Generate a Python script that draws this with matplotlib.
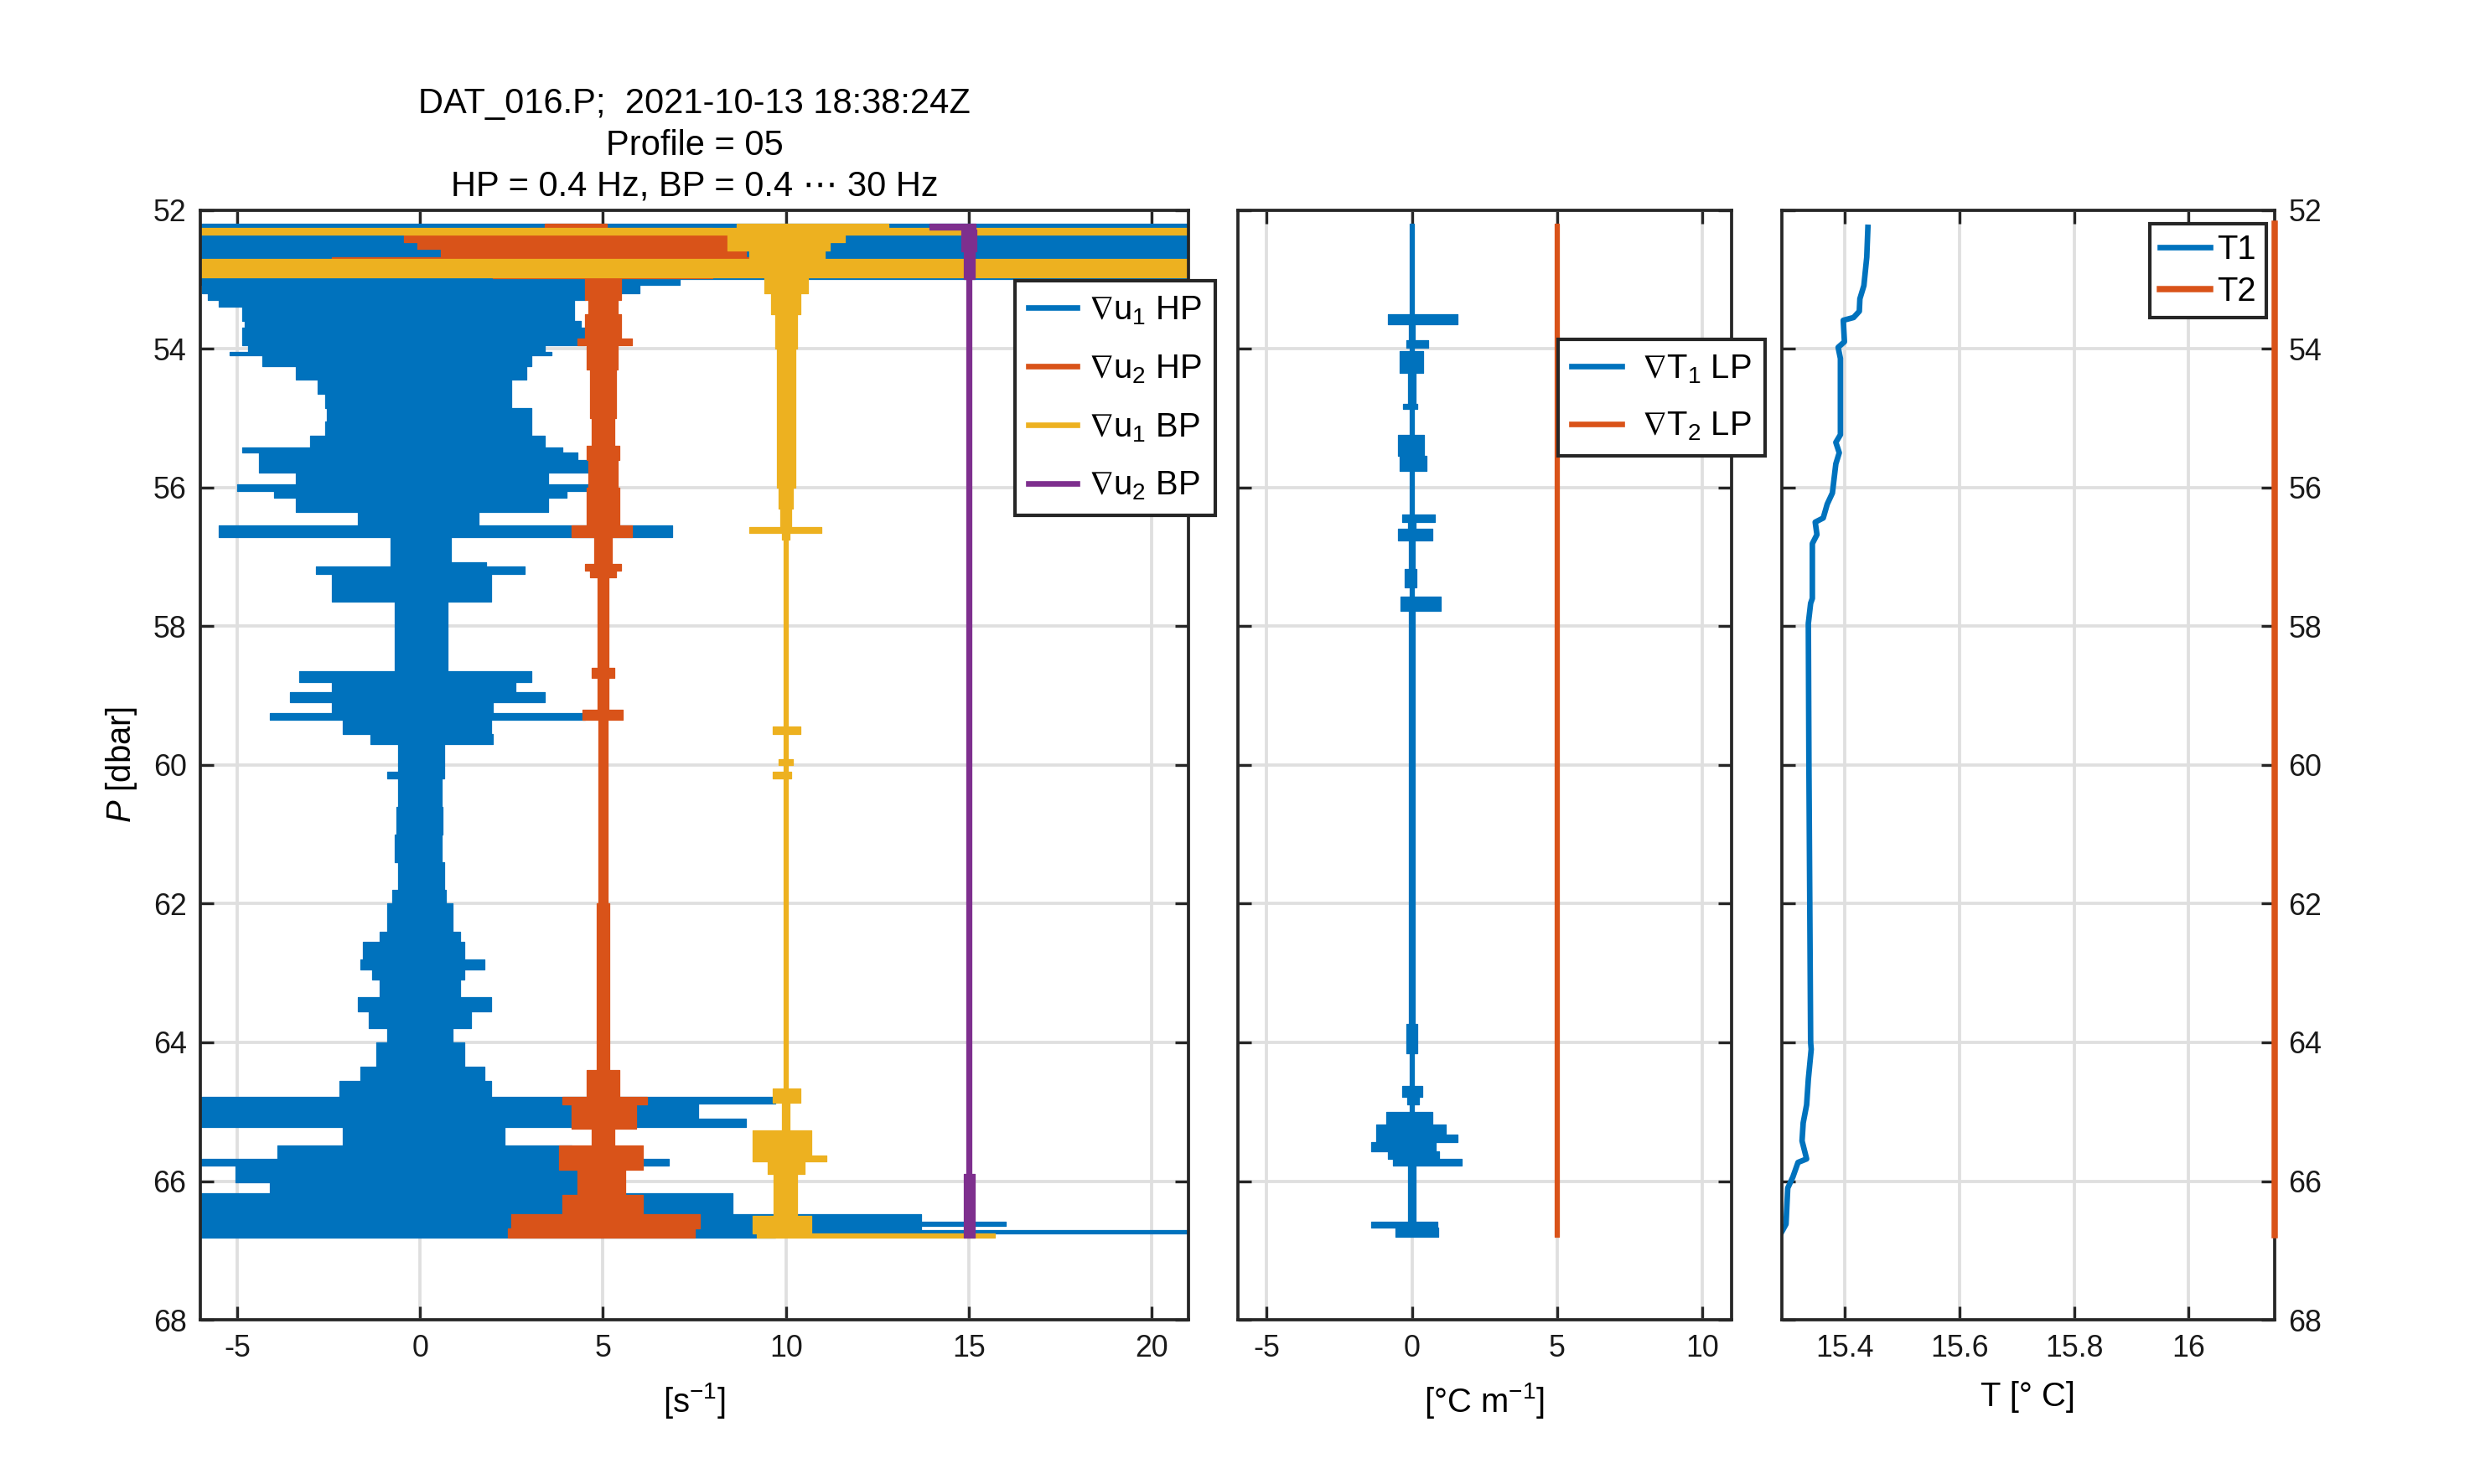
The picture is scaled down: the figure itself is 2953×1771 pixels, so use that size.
import numpy as np
import matplotlib
matplotlib.use("Agg")
import matplotlib.pyplot as plt
from matplotlib.lines import Line2D

plt.rcParams['font.family'] = ['Liberation Sans', 'DejaVu Sans']
plt.rcParams['mathtext.fontset'] = 'custom'
plt.rcParams['mathtext.rm'] = 'Liberation Sans'
plt.rcParams['mathtext.it'] = 'Liberation Sans:italic'
plt.rcParams['mathtext.fallback'] = 'stixsans'
plt.rcParams['axes.unicode_minus'] = False

# MATLAB default colours
c_blue = '#0072BD'
c_red = '#D95319'
c_yel = '#EDB120'
c_pur = '#7E2F8E'

# ---- left panel: shear envelopes (P [dbar], min, max) ----
# grad u1 HP, offset 0
p_u1hp = [52.20, 53.00, 53.08, 53.20, 53.30, 53.40, 53.60, 53.70, 53.95, 54.05, 54.10,
          54.25, 54.45, 54.65, 54.85, 55.05, 55.25, 55.42, 55.50, 55.60, 55.78, 55.95,
          56.05, 56.15, 56.35, 56.55, 56.72, 57.08, 57.14, 57.25, 57.65, 58.65, 58.80,
          58.95, 59.10, 59.25, 59.35, 59.55, 59.70, 60.10, 60.20, 60.60, 61.00, 61.40,
          61.80, 62.00, 62.40, 62.55, 62.80, 62.95, 63.10, 63.35, 63.55, 63.80, 64.00,
          64.35, 64.55, 64.78, 64.88, 65.10, 65.22, 65.48, 65.68, 65.78, 66.02, 66.18,
          66.48, 66.58, 66.64, 66.70, 66.76, 66.82]
lo_u1hp = [-8.0, -6.0, -5.96, -5.8, -5.5, -4.85, -4.8, -4.85, -4.7, -5.2, -4.3,
           -3.4, -2.8, -2.6, -2.55, -2.6, -3.0, -4.85, -4.4, -4.4, -3.4, -5.0,
           -4.0, -3.4, -1.7, -5.5, -0.8, -0.8, -2.85, -2.4, -0.7, -3.3, -2.4,
           -3.55, -2.4, -4.1, -2.1, -1.36, -0.6, -0.9, -0.6, -0.65, -0.7, -0.6,
           -0.75, -0.9, -1.1, -1.55, -1.64, -1.3, -1.1, -1.7, -1.4, -0.9, -1.2,
           -1.64, -2.2, -6.5, -6.5, -6.5, -2.1, -3.9, -6.5, -5.05, -4.1, -6.5,
           -6.5, -6.5, -6.5, -6.5, -6.5, -6.5]
hi_u1hp = [24.0, 7.1, 6.0, 4.5, 4.2, 4.2, 4.4, 4.5, 3.4, 3.6, 3.05,
           2.9, 2.5, 2.5, 3.05, 3.05, 3.4, 3.9, 4.3, 4.6, 3.5, 4.6,
           4.0, 3.5, 1.6, 6.9, 0.85, 1.8, 2.87, 1.95, 0.75, 3.05, 2.6,
           3.4, 2.0, 4.5, 1.95, 2.0, 0.66, 0.66, 0.6, 0.62, 0.6, 0.65,
           0.7, 0.9, 1.1, 1.2, 1.76, 1.2, 1.1, 1.95, 1.4, 0.9, 1.2,
           1.76, 1.95, 9.7, 7.6, 8.9, 2.3, 4.15, 6.8, 4.3, 4.3, 8.55,
           13.7, 16.0, 13.7, 24.0, 9.7, 9.7]

# grad u2 HP, offset 5
p_u2hp = [52.20, 52.26, 52.35, 52.46, 52.56, 52.68, 52.72, 52.98, 53.30, 53.50, 53.85,
          53.95, 54.30, 55.00, 55.40, 55.60, 56.00, 56.55, 56.72, 57.10, 57.20, 57.30,
          58.60, 58.75, 59.20, 59.35, 62.00, 63.00, 64.40, 64.78, 64.90, 65.25, 65.48,
          65.84, 66.20, 66.48, 66.68, 66.82]
lo_u2hp = [3.4, 3.0, -0.44, -0.07, 0.57, -2.4, 2.0, 4.5, 4.6, 4.5, 4.3,
           4.55, 4.65, 4.7, 4.55, 4.6, 4.55, 4.15, 4.75, 4.5, 4.65, 4.85,
           4.7, 4.85, 4.45, 4.87, 4.82, 4.82, 4.55, 3.9, 4.15, 4.7, 3.8,
           4.3, 3.9, 2.5, 2.4, 2.4]
hi_u2hp = [5.1, 8.0, 8.66, 8.4, 8.9, 9.1, 8.0, 5.5, 5.4, 5.5, 5.8,
           5.4, 5.35, 5.3, 5.45, 5.4, 5.45, 5.8, 5.25, 5.5, 5.35, 5.15,
           5.3, 5.15, 5.55, 5.13, 5.18, 5.18, 5.45, 6.2, 5.9, 5.3, 6.1,
           5.6, 6.1, 7.65, 7.5, 7.5]

# grad u1 BP, offset 10
p_u1bp = [52.20, 52.26, 52.35, 52.46, 52.58, 52.70, 52.97, 53.20, 53.50, 54.00, 56.00,
          56.30, 56.57, 56.65, 56.75, 59.45, 59.55, 59.92, 60.00, 60.10, 60.20, 64.67,
          64.87, 65.27, 65.63, 65.72, 65.90, 66.50, 66.76, 66.82]
lo_u1bp = [8.66, -8.0, 8.4, 8.4, 9.0, -8.0, 9.4, 9.6, 9.7, 9.75, 9.8,
           9.85, 9.0, 9.9, 9.94, 9.65, 9.94, 9.8, 9.94, 9.65, 9.94, 9.65,
           9.9, 9.08, 9.08, 9.5, 9.67, 9.1, 9.2, 9.2]
hi_u1bp = [12.8, 24.0, 11.6, 11.2, 11.05, 24.0, 10.6, 10.4, 10.3, 10.25, 10.2,
           10.15, 10.96, 10.1, 10.06, 10.4, 10.06, 10.2, 10.06, 10.15, 10.06, 10.4,
           10.1, 10.7, 11.1, 10.5, 10.3, 10.7, 15.7, 15.7]

# grad u2 BP, offset 15
p_u2bp = [52.20, 52.28, 52.60, 53.00, 65.90, 66.82]
lo_u2bp = [13.93, 14.8, 14.87, 14.94, 14.86, 14.86]
hi_u2bp = [15.18, 15.2, 15.15, 15.06, 15.16, 15.16]

# ---- middle panel: temperature gradient envelopes ----
p_t1lp = [52.20, 53.50, 53.65, 53.88, 53.98, 54.03, 54.35, 54.80, 54.87, 55.24, 55.55,
          55.76, 56.39, 56.50, 56.60, 56.76, 57.18, 57.44, 57.57, 57.78, 63.74, 64.16,
          64.63, 64.79, 64.90, 65.00, 65.18, 65.33, 65.44, 65.57, 65.68, 65.78, 66.58,
          66.67, 66.80]
lo_t1lp = [-0.07, -0.82, -0.1, -0.2, -0.07, -0.42, -0.12, -0.3, -0.07, -0.48, -0.42,
           -0.07, -0.34, -0.12, -0.48, -0.1, -0.25, -0.07, -0.39, -0.1, -0.2, -0.07,
           -0.34, -0.15, -0.07, -0.88, -1.24, -1.24, -1.39, -0.82, -0.65, -0.12, -1.41,
           -0.56, -0.56]
hi_t1lp = [0.07, 1.57, 0.1, 0.55, 0.07, 0.38, 0.12, 0.2, 0.07, 0.43, 0.49,
           0.07, 0.8, 0.12, 0.72, 0.1, 0.15, 0.07, 1.0, 0.1, 0.2, 0.07,
           0.35, 0.25, 0.07, 0.72, 1.17, 1.57, 0.83, 0.95, 1.72, 0.12, 0.89,
           0.92, 0.92]

p_t2lp = [52.20, 66.80]
lo_t2lp = [4.92, 4.92]
hi_t2lp = [5.07, 5.07]

# ---- right panel: temperature ----
p_T1 = [52.25, 52.68, 53.09, 53.28, 53.46, 53.55, 53.59, 53.90, 53.98, 54.14, 55.24,
        55.35, 55.50, 55.66, 56.08, 56.24, 56.44, 56.50, 56.68, 56.81, 57.60, 57.67,
        57.96, 60.00, 64.00, 64.10, 64.53, 64.90, 65.16, 65.42, 65.68, 65.73, 65.94,
        66.10, 66.62, 66.80]
T1 = [15.440, 15.438, 15.433, 15.426, 15.425, 15.415, 15.397, 15.399, 15.388, 15.392, 15.392,
      15.384, 15.390, 15.384, 15.378, 15.369, 15.362, 15.348, 15.351, 15.343, 15.343, 15.340,
      15.336, 15.337, 15.340, 15.341, 15.336, 15.333, 15.327, 15.325, 15.333, 15.318, 15.309,
      15.300, 15.297, 15.285]
p_T2 = [52.20, 66.78]
T2 = [16.15, 16.15]

fs_tick = 8.6
fs_lab = 9.6
fs_leg = 9.6
fs_title = 10.0
spine_c = '#262626'

fig = plt.figure(figsize=(2953 / 300, 1771 / 300), dpi=300)
ax1 = fig.add_axes([0.0810, 0.1106, 0.3992, 0.7479])
ax2 = fig.add_axes([0.5000, 0.1106, 0.1996, 0.7479])
ax3 = fig.add_axes([0.7200, 0.1106, 0.1990, 0.7479])


def style(ax):
    ax.set_ylim(68, 52)
    ax.set_yticks(np.arange(52, 69, 2))
    ax.grid(True, color='#dfdfdf', linewidth=0.9)
    ax.set_axisbelow(True)
    ax.tick_params(direction='in', length=3.8, width=0.8, color=spine_c,
                   labelsize=fs_tick, labelcolor='#1a1a1a',
                   top=True, right=True, bottom=True, left=True, pad=4)
    for s in ax.spines.values():
        s.set_color(spine_c)
        s.set_linewidth(0.9)


def env(ax, p, lo, hi, color):
    ax.fill_betweenx(p, lo, hi, step='post', color=color, linewidth=0.3, edgecolor=color)


# left panel
env(ax1, p_u1hp, lo_u1hp, hi_u1hp, c_blue)
env(ax1, p_u2hp, lo_u2hp, hi_u2hp, c_red)
env(ax1, p_u1bp, lo_u1bp, hi_u1bp, c_yel)
env(ax1, p_u2bp, lo_u2bp, hi_u2bp, c_pur)
style(ax1)
ax1.set_xlim(-6, 21)
ax1.set_xticks([-5, 0, 5, 10, 15, 20])
ax1.set_xlabel('[s$^{-1}$]', fontsize=fs_lab, labelpad=5)
ax1.set_ylabel('$P$ [dbar]', fontsize=fs_lab, labelpad=4)
ax1.set_title('DAT_016.P;  2021-10-13 18:38:24Z\nProfile = 05\nHP = 0.4 Hz, BP = 0.4 \u22ef 30 Hz',
              fontsize=fs_title, linespacing=1.3, pad=4)
h1 = [Line2D([], [], color=c, lw=1.6) for c in (c_blue, c_red, c_yel, c_pur)]
leg1 = ax1.legend(h1, [r'$\nabla$u$_1$ HP', r'$\nabla$u$_2$ HP', r'$\nabla$u$_1$ BP', r'$\nabla$u$_2$ BP'],
                  loc='upper left', bbox_to_anchor=(0.4100, 0.8106), bbox_transform=fig.transFigure,
                  borderaxespad=0, fontsize=fs_leg, fancybox=False, framealpha=1,
                  edgecolor=spine_c, handlelength=1.45, handletextpad=0.35,
                  labelspacing=0.78, borderpad=0.4)
leg1.get_frame().set_linewidth(1.0)

# middle panel
env(ax2, p_t1lp, lo_t1lp, hi_t1lp, c_blue)
env(ax2, p_t2lp, lo_t2lp, hi_t2lp, c_red)
style(ax2)
ax2.set_xlim(-6, 11)
ax2.set_xticks([-5, 0, 5, 10])
ax2.tick_params(labelleft=False)
ax2.set_xlabel('[\u00b0C m$^{-1}$]', fontsize=fs_lab, labelpad=5)
h2 = [Line2D([], [], color=c, lw=1.6) for c in (c_blue, c_red)]
leg2 = ax2.legend(h2, [r'$\nabla$T$_1$ LP', r'$\nabla$T$_2$ LP'],
                  loc='upper left', bbox_to_anchor=(0.6295, 0.7713), bbox_transform=fig.transFigure,
                  borderaxespad=0, fontsize=fs_leg, fancybox=False, framealpha=1,
                  edgecolor=spine_c, handlelength=1.5, handletextpad=0.6,
                  labelspacing=0.75, borderpad=0.4)
leg2.get_frame().set_linewidth(1.0)

# right panel
ax3.plot(T1, p_T1, color=c_blue, lw=1.6, label='T1')
ax3.plot(T2, p_T2, color=c_red, lw=1.8, label='T2', clip_on=False, zorder=3)
style(ax3)
ax3.set_xlim(15.29, 16.15)
ax3.set_xticks([15.4, 15.6, 15.8, 16.0])
ax3.set_xticklabels(['15.4', '15.6', '15.8', '16'])
ax3.tick_params(labelleft=False, labelright=True)
ax3.set_xlabel('T [\u00b0 C]', fontsize=fs_lab, labelpad=5)
leg3 = ax3.legend(loc='upper left', bbox_to_anchor=(0.8686, 0.8490), bbox_transform=fig.transFigure,
                  borderaxespad=0, fontsize=fs_leg, fancybox=False, framealpha=1,
                  edgecolor=spine_c, handlelength=1.5, handletextpad=0.2,
                  labelspacing=0.3, borderpad=0.3)
leg3.get_frame().set_linewidth(1.0)

fig.savefig('out.png', dpi=300, facecolor='white')
